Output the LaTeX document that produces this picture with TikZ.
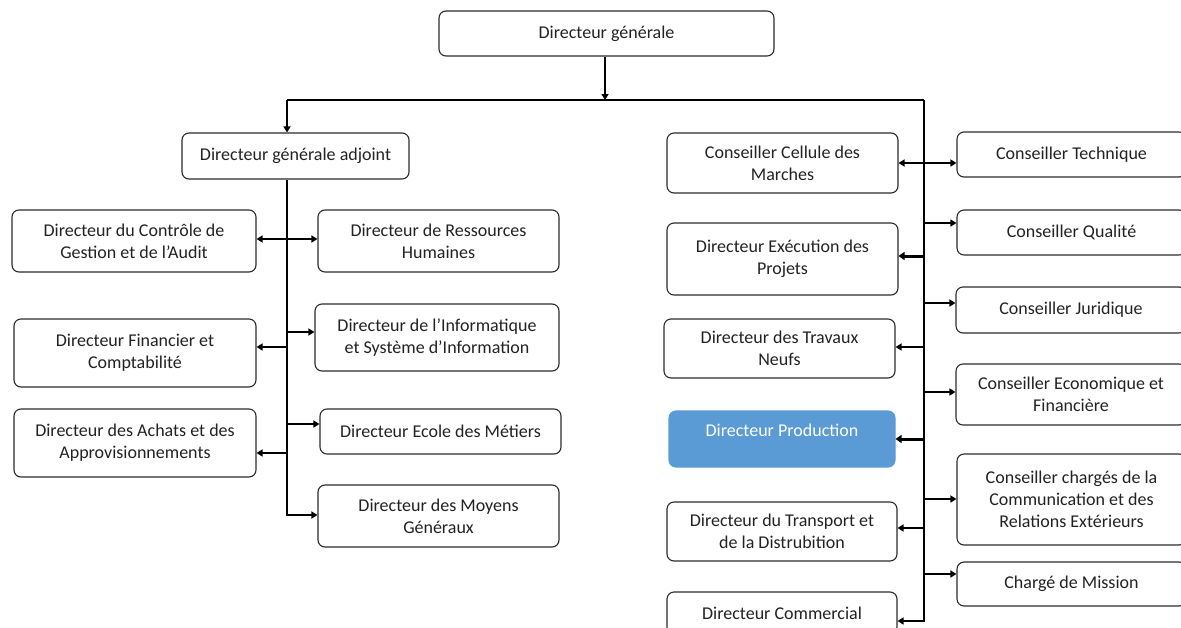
\documentclass[tikz,border=0pt]{standalone}
\usepackage{fontspec}
\setmainfont{Carlito}
\usetikzlibrary{arrows.meta}
\definecolor{boxline}{HTML}{2B2B2B}
\definecolor{boxtext}{HTML}{222222}
\definecolor{prodblue}{HTML}{5B9BD5}
\begin{document}
\begin{tikzpicture}[x=1pt,y=-1pt,
  box/.style={draw=boxline, line width=1.1pt, rounded corners=7pt, inner sep=0pt,
    align=center, text=boxtext, font=\fontsize{18}{22}\selectfont},
  bluebox/.style={box, fill=prodblue, draw=prodblue, text=white},
  conn/.style={line width=1.8pt, draw=black},
  arr/.style={conn, -{Triangle[length=6pt,width=7pt]}},
  darr/.style={conn, {Triangle[length=6pt,width=7pt]}-{Triangle[length=6pt,width=7pt]}},
  thickarr/.style={line width=3pt, -{Triangle[length=6pt,width=8pt]}},
  thinarr/.style={line width=1.2pt, -{Triangle[length=6pt,width=7pt]}}
]
\useasboundingbox (0,0) rectangle (1181,627);

% top
\node[box, minimum width=335pt, minimum height=45pt] (dg) at (606.5,33.5) {Directeur générale};
\node[box, minimum width=227pt, minimum height=46pt] (dga) at (295.5,156) {Directeur générale adjoint};

% left column
\node[box, minimum width=244pt, minimum height=62pt] (ctrl) at (134,241) {Directeur du Contrôle de\\Gestion et de l’Audit};
\node[box, minimum width=241pt, minimum height=62pt] (rh) at (438.5,241) {Directeur de Ressources\\Humaines};
\node[box, minimum width=244pt, minimum height=67pt] (info) at (437,337.5) {Directeur de l’Informatique\\et Système d’Information};
\node[box, minimum width=242pt, minimum height=68pt] (fin) at (135,353) {Directeur Financier et\\Comptabilité};
\node[box, minimum width=241pt, minimum height=45pt] (ecole) at (440.5,431.5) {Directeur Ecole des Métiers};
\node[box, minimum width=242pt, minimum height=68pt] (achats) at (135,443) {Directeur des Achats et des\\Approvisionnements};
\node[box, minimum width=241pt, minimum height=62pt] (moyens) at (438.5,516) {Directeur des Moyens\\Généraux};

% middle column
\node[box, minimum width=231pt, minimum height=60pt] (cellule) at (782.5,163) {Conseiller Cellule des\\Marches};
\node[box, minimum width=231pt, minimum height=72pt] (exec) at (782.5,259) {Directeur Exécution des\\Projets};
\node[box, minimum width=231pt, minimum height=59pt] (travaux) at (779.5,348.5) {Directeur des Travaux\\Neufs};
\node[bluebox, minimum width=226pt, minimum height=56pt] (prod) at (782,439) {Directeur Production\\[-4pt]\mbox{}};
\node[box, minimum width=230pt, minimum height=59pt] (transport) at (782,531.5) {Directeur du Transport et\\de la Distrubition};
\node[box, minimum width=230pt, minimum height=42pt] (com) at (782,613) {Directeur Commercial};

% right column
\node[box, minimum width=229pt, minimum height=45pt] (tech) at (1071.5,154.5) {Conseiller Technique};
\node[box, minimum width=229pt, minimum height=45pt] (qual) at (1071.5,232.5) {Conseiller Qualité};
\node[box, minimum width=230pt, minimum height=46pt] (jur) at (1071,310) {Conseiller Juridique};
\node[box, minimum width=230pt, minimum height=61pt] (eco) at (1071,394.5) {Conseiller Economique et\\Financière};
\node[box, minimum width=229pt, minimum height=91pt] (chg) at (1071.5,499.5) {Conseiller chargés de la\\Communication et des\\Relations Extérieurs};
\node[box, minimum width=229pt, minimum height=44pt] (mis) at (1071.5,584) {Chargé de Mission};

% spine coordinates
\coordinate (sL) at (287,100);
\coordinate (sR) at (924,100);
\coordinate (sT) at (605,100);

% top connectors
\draw[arr] (dg.south -| sT) -- (sT);
\draw[conn] (sR) -- (sL);
\draw[arr] (sL) -- (sL |- dga.north);
\draw[arr] (sR) |- ([yshift=-8pt]com.east);

% left spine
\draw[arr] (sL |- dga.south) |- ([yshift=1pt]moyens.west);
\draw[darr] ([yshift=2pt]ctrl.east) -- ([yshift=2pt]ctrl.east -| rh.west);
\draw[arr] ([yshift=5.5pt]info.west -| sL) -- ([yshift=5.5pt]info.west);
\draw[arr] ([yshift=6pt]fin.east -| sL) -- ([yshift=6pt]fin.east);
\draw[arr] ([yshift=7.5pt]ecole.west -| sL) -- ([yshift=7.5pt]ecole.west);
\draw[arr] ([yshift=-10pt]achats.east -| sL) -- ([yshift=-10pt]achats.east);

% right spine
\draw[darr] (cellule.east) -- (cellule.east -| tech.west);
\draw[thinarr] ([yshift=9.5pt]qual.west -| sR) -- ([yshift=9.5pt]qual.west);
\draw[thickarr] ([yshift=3pt]exec.east -| sR) -- ([yshift=3pt]exec.east);
\draw[arr] ([yshift=7pt]jur.west -| sR) -- ([yshift=7pt]jur.west);
\draw[arr] ([yshift=1.5pt]travaux.east -| sR) -- ([yshift=1.5pt]travaux.east);
\draw[arr] ([yshift=2.5pt]eco.west -| sR) -- ([yshift=2.5pt]eco.west);
\draw[thickarr] (prod.east -| sR) -- (prod.east);
\draw[arr] ([yshift=0.5pt]chg.west -| sR) -- ([yshift=0.5pt]chg.west);
\draw[arr] ([yshift=3.5pt]transport.east -| sR) -- ([yshift=3.5pt]transport.east);
\draw[arr] ([yshift=10pt]mis.west -| sR) -- ([yshift=10pt]mis.west);
\end{tikzpicture}
\end{document}
